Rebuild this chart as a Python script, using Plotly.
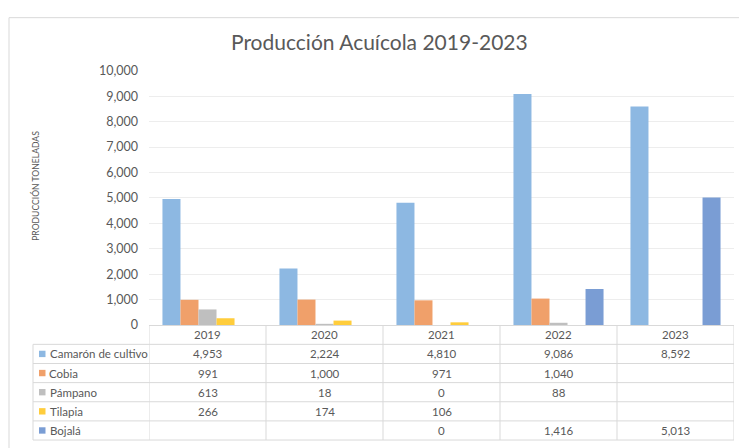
import plotly.graph_objects as go

# ---------------- data ----------------
years = ["2019", "2020", "2021", "2022", "2023"]
series_names = ["Camarón de cultivo", "Cobia", "Pámpano", "Tilapia", "Bojalá"]
camaron = [4953, 2224, 4810, 9086, 8592]
cobia = [991, 1000, 971, 1040, None]
pampano = [613, 18, 0, 88, None]
tilapia = [266, 174, 106, None, None]
bojala = [None, None, 0, 1416, 5013]
y_ticks = [0, 1000, 2000, 3000, 4000, 5000, 6000, 7000, 8000, 9000, 10000]
title_text = "Producción Acuícola 2019-2023"
y_title = "PRODUCCIÓN TONELADAS"

series_values = [camaron, cobia, pampano, tilapia, bojala]
colors = ["#8DB8E2", "#F0A06A", "#BFBFBF", "#FFCD3C", "#7A9DD4"]

# ---------------- layout helpers ----------------
W, H = 739, 448
FONT = "Lato"
TXT = "#595959"
LINE = "#D9D9D9"
TFS = 11.5


def px(x):
    return x / W


def py(y):
    return 1 - y / H


PLOT_L, PLOT_R, PLOT_T, PLOT_B = 149, 734, 65, 328
TABLE_L = 33
HEADER_B = 348
ROW_H = 19.8

fig = go.Figure()
for name, vals, col in zip(series_names, series_values, colors):
    fig.add_trace(go.Bar(
        x=years, y=vals, name=name,
        marker=dict(color=col, line=dict(width=0)),
        showlegend=False,
    ))

shapes = []
annotations = []

# outer chart border (top + left visible)
shapes.append(dict(type="line", xref="paper", yref="paper",
                   x0=px(9), x1=px(760), y0=py(10), y1=py(10),
                   line=dict(color=LINE, width=1)))
shapes.append(dict(type="line", xref="paper", yref="paper",
                   x0=px(9), x1=px(9), y0=py(10), y1=py(470),
                   line=dict(color=LINE, width=1)))

# table horizontal lines
row_edges = [HEADER_B + ROW_H * i for i in range(len(series_names) + 1)]
for yy in row_edges:
    shapes.append(dict(type="line", xref="paper", yref="paper",
                       x0=px(TABLE_L), x1=px(PLOT_R), y0=py(yy), y1=py(yy),
                       line=dict(color=LINE, width=1)))
# table vertical lines
table_bottom = row_edges[-1]
shapes.append(dict(type="line", xref="paper", yref="paper",
                   x0=px(TABLE_L), x1=px(TABLE_L), y0=py(HEADER_B), y1=py(table_bottom),
                   line=dict(color=LINE, width=1)))
for k in range(len(years) + 1):
    shapes.append(dict(type="line", xref="x", yref="paper",
                       x0=k - 0.5, x1=k - 0.5, y0=py(PLOT_B), y1=py(table_bottom),
                       line=dict(color=LINE, width=1)))

# header (years)
for j, yr in enumerate(years):
    annotations.append(dict(x=j, xref="x", y=py((PLOT_B + HEADER_B) / 2), yref="paper",
                            text=yr, showarrow=False, xanchor="center", yanchor="middle",
                            font=dict(family=FONT, size=TFS, color=TXT)))

# rows
for i, (name, vals, col) in enumerate(zip(series_names, series_values, colors)):
    yc = HEADER_B + ROW_H * (i + 0.5)
    shapes.append(dict(type="rect", xref="paper", yref="paper",
                       x0=px(39), x1=px(45.5), y0=py(yc - 3.3), y1=py(yc + 3.3),
                       fillcolor=col, line=dict(width=0)))
    annotations.append(dict(x=px(47.5), xref="paper", y=py(yc), yref="paper",
                            text=name, showarrow=False, xanchor="left", yanchor="middle",
                            font=dict(family=FONT, size=TFS, color=TXT)))
    for j, v in enumerate(vals):
        if v is None:
            continue
        annotations.append(dict(x=j, xref="x", y=py(yc), yref="paper",
                                text=f"{v:,}", showarrow=False, xanchor="center",
                                yanchor="middle",
                                font=dict(family=FONT, size=TFS, color=TXT)))

# title
annotations.append(dict(x=px(379), xref="paper", y=py(35), yref="paper",
                        text=title_text, showarrow=False, xanchor="center", yanchor="middle",
                        font=dict(family=FONT, size=21, color=TXT)))
# y axis title
annotations.append(dict(x=px(36), xref="paper", y=py(184), yref="paper",
                        text=y_title, showarrow=False, textangle=-90,
                        xanchor="center", yanchor="middle",
                        font=dict(family=FONT, size=8.6, color=TXT)))

fig.update_layout(
    width=W, height=H,
    margin=dict(l=0, r=0, t=0, b=0),
    paper_bgcolor="white", plot_bgcolor="white",
    barmode="group", bargap=0.23, bargroupgap=0,
    shapes=shapes, annotations=annotations,
    font=dict(family=FONT, color=TXT),
    xaxis=dict(domain=[px(PLOT_L), px(PLOT_R)], type="category",
               range=[-0.5, len(years) - 0.5],
               showticklabels=False, showgrid=False, zeroline=False,
               showline=True, linecolor=LINE, linewidth=1, ticks=""),
    yaxis=dict(domain=[py(PLOT_B), py(PLOT_T)], range=[0, 10000],
               tickvals=y_ticks, tickformat=",d",
               showgrid=True, gridcolor="#EDEDED", gridwidth=1,
               zeroline=False, showline=False, ticks="",
               ticklabelstandoff=10,
               tickfont=dict(family=FONT, size=12.5, color=TXT)),
)

post = ("document.body.style.margin='0px';"
        "document.documentElement.style.overflow='hidden';"
        "var d=document.getElementById('{plot_id}');"
        "d.style.position='fixed';d.style.top='0px';d.style.left='0px';")

fig.write_html("out.html", config={"displayModeBar": False}, post_script=post)
